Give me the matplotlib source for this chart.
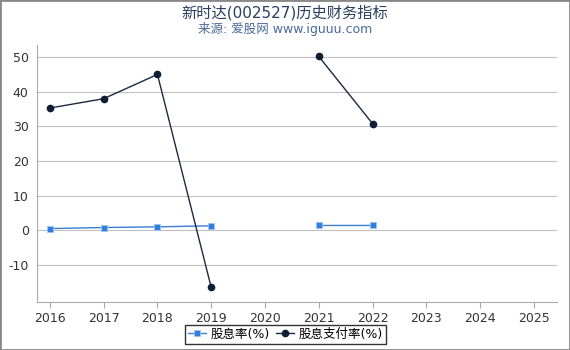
import numpy as np
import matplotlib
matplotlib.use("Agg")
import matplotlib.pyplot as plt

plt.rcParams['font.family'] = ['DejaVu Sans', 'Noto Sans CJK SC']
plt.rcParams['axes.unicode_minus'] = False

years = [2016, 2017, 2018, 2019, 2020, 2021, 2022]
yield_pct = [0.5, 0.8, 1.0, 1.3, np.nan, 1.4, 1.4]
payout_pct = [35.3, 38.0, 45.0, -16.5, np.nan, 50.2, 30.8]
xticks = list(range(2016, 2026))
yticks = [-10, 0, 10, 20, 30, 40, 50]

fig = plt.figure(figsize=(5.7, 3.5), dpi=100)
ax = fig.add_axes([37/570, 48/350, 520/570, 257/350])

ax.plot(years, yield_pct, color='#3a7fd5', lw=1, marker='s', ms=4.5,
        mfc='#2f7ee0', mec='#9cc3f0', mew=0.6, label='股息率(%)')
ax.plot(years, payout_pct, color='#1a2a40', lw=1, marker='o', ms=4.5,
        mfc='#0f1f33', mec='#0f1f33', label='股息支付率(%)')

ax.set_xlim(2015.76, 2025.43)
ax.set_ylim(-20.7, 53.5)
ax.set_xticks(xticks)
ax.set_yticks(yticks)
ax.grid(axis='y', color='#c0c0c0', lw=0.8)
ax.set_axisbelow(True)
for s in ['top', 'right']:
    ax.spines[s].set_visible(False)
for s in ['left', 'bottom']:
    ax.spines[s].set_color('#aaaaaa')
ax.tick_params(axis='y', length=0, labelsize=9, colors='#333333', pad=6)
ax.tick_params(axis='x', length=4, color='#aaaaaa', labelsize=9, colors='#333333')

fig.text(0.5, 0.965, '新时达(002527)历史财务指标', ha='center', va='center',
         fontsize=11, color='#2a3f5f')
fig.text(0.5, 0.918, '来源: 爱股网 www.iguuu.com', ha='center', va='center',
         fontsize=9, color='#4a6a9a')

leg = fig.legend(loc='lower center', bbox_to_anchor=(0.5, 0.0), ncol=2,
                 fontsize=9, frameon=True, fancybox=False, handlelength=1.5,
                 handletextpad=0.3, columnspacing=0.5, borderpad=0.25)
leg.get_frame().set_edgecolor('black')
leg.get_frame().set_linewidth(1)

fig.patches.append(plt.Rectangle((0, 0), 1, 1, transform=fig.transFigure,
                                 fill=False, edgecolor='#888888', lw=2))

fig.savefig('out.png', dpi=100)
